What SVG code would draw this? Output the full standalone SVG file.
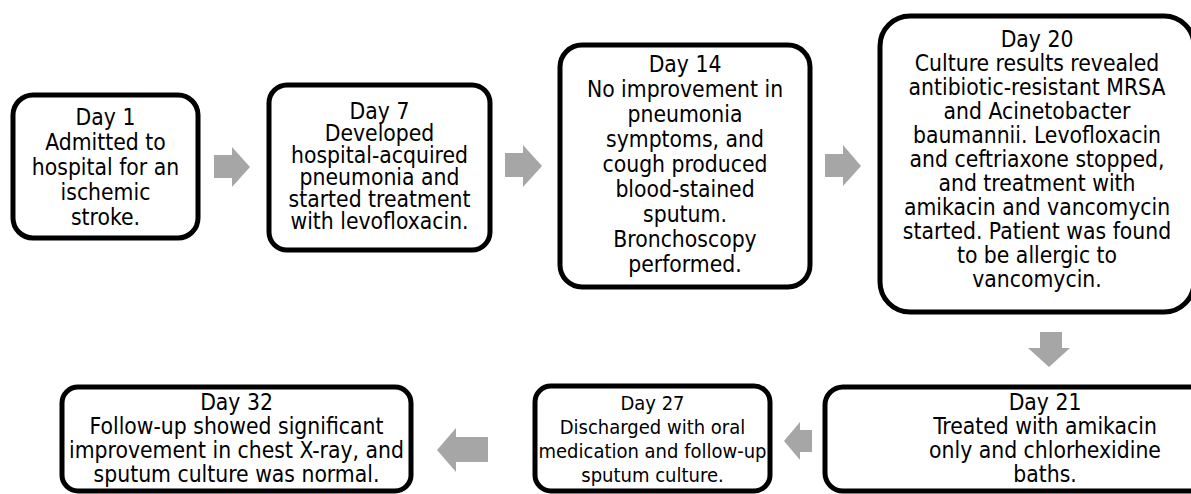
<svg xmlns="http://www.w3.org/2000/svg" width="1191" height="494" viewBox="0 0 1191 494">
<style>
.box{fill:#fff;stroke:#000;stroke-width:5}
.t{font-family:"DejaVu Sans Condensed","DejaVu Sans",sans-serif;font-stretch:condensed;font-size:22.7px;fill:#000;text-anchor:middle}
.s{font-size:20px}
.arr{fill:#a6a6a6;stroke:none}
</style>
<rect width="1191" height="494" fill="#fff"/>
<g id="connectors">
<polygon class="arr" points="214,155 232,155 232,147 250,167 232,187 232,178 214,178"/>
<polygon class="arr" points="505,153 523,153 523,145 542,166 523,187 523,177 505,177"/>
<polygon class="arr" points="825,154 843,154 843,145 861,166 843,186 843,177 825,177"/>
<polygon class="arr" points="1040,332 1062,332 1062,348 1070,348 1049,367 1028,348 1040,348"/>
<polygon class="arr" points="812,430 800,430 800,422 784,441 800,460 800,452 812,452"/>
<polygon class="arr" points="488,437 456,437 456,428 437,450 456,472 456,462 488,462"/>
</g>
<g id="n1">
<rect class="box" x="13" y="95" width="185" height="143" rx="20"/>
<text class="t"><tspan x="105.5" y="125">Day 1</tspan><tspan x="105.5" y="150">Admitted to</tspan><tspan x="105.5" y="175">hospital for an</tspan><tspan x="105.5" y="200">ischemic</tspan><tspan x="105.5" y="225">stroke.</tspan></text>
</g>
<g id="n2">
<rect class="box" x="269" y="85" width="221" height="165" rx="18"/>
<text class="t"><tspan x="379.5" y="119">Day 7</tspan><tspan x="379.5" y="141">Developed</tspan><tspan x="379.5" y="163">hospital-acquired</tspan><tspan x="379.5" y="185">pneumonia and</tspan><tspan x="379.5" y="207">started treatment</tspan><tspan x="379.5" y="229">with levofloxacin.</tspan></text>
</g>
<g id="n3">
<rect class="box" x="560" y="45" width="250" height="242" rx="22"/>
<text class="t"><tspan x="685" y="72">Day 14</tspan><tspan x="685" y="97">No improvement in</tspan><tspan x="685" y="122">pneumonia</tspan><tspan x="685" y="147">symptoms, and</tspan><tspan x="685" y="172">cough produced</tspan><tspan x="685" y="197">blood-stained</tspan><tspan x="685" y="222">sputum.</tspan><tspan x="685" y="247">Bronchoscopy</tspan><tspan x="685" y="272">performed.</tspan></text>
</g>
<g id="n4">
<rect class="box" x="880" y="16" width="314" height="296" rx="30"/>
<text class="t"><tspan x="1037" y="47">Day 20</tspan><tspan x="1037" y="71">Culture results revealed</tspan><tspan x="1037" y="95">antibiotic-resistant MRSA</tspan><tspan x="1037" y="119">and Acinetobacter</tspan><tspan x="1037" y="143">baumannii. Levofloxacin</tspan><tspan x="1037" y="167">and ceftriaxone stopped,</tspan><tspan x="1037" y="191">and treatment with</tspan><tspan x="1037" y="215">amikacin and vancomycin</tspan><tspan x="1037" y="239">started. Patient was found</tspan><tspan x="1037" y="263">to be allergic to</tspan><tspan x="1037" y="287">vancomycin.</tspan></text>
</g>
<g id="n5">
<rect class="box" x="825" y="387" width="440" height="104" rx="18"/>
<text class="t"><tspan x="1045" y="410">Day 21</tspan><tspan x="1045" y="434">Treated with amikacin</tspan><tspan x="1045" y="458">only and chlorhexidine</tspan><tspan x="1045" y="482">baths.</tspan></text>
</g>
<g id="n6">
<rect class="box" x="535" y="386" width="235" height="105" rx="16"/>
<text class="t s"><tspan x="652.5" y="410">Day 27</tspan><tspan x="652.5" y="434">Discharged with oral</tspan><tspan x="652.5" y="458">medication and follow-up</tspan><tspan x="652.5" y="482">sputum culture.</tspan></text>
</g>
<g id="n7">
<rect class="box" x="62" y="387" width="349" height="104" rx="16"/>
<text class="t"><tspan x="236.5" y="410">Day 32</tspan><tspan x="236.5" y="434">Follow-up showed significant</tspan><tspan x="236.5" y="458">improvement in chest X-ray, and</tspan><tspan x="236.5" y="482">sputum culture was normal.</tspan></text>
</g>
</svg>
